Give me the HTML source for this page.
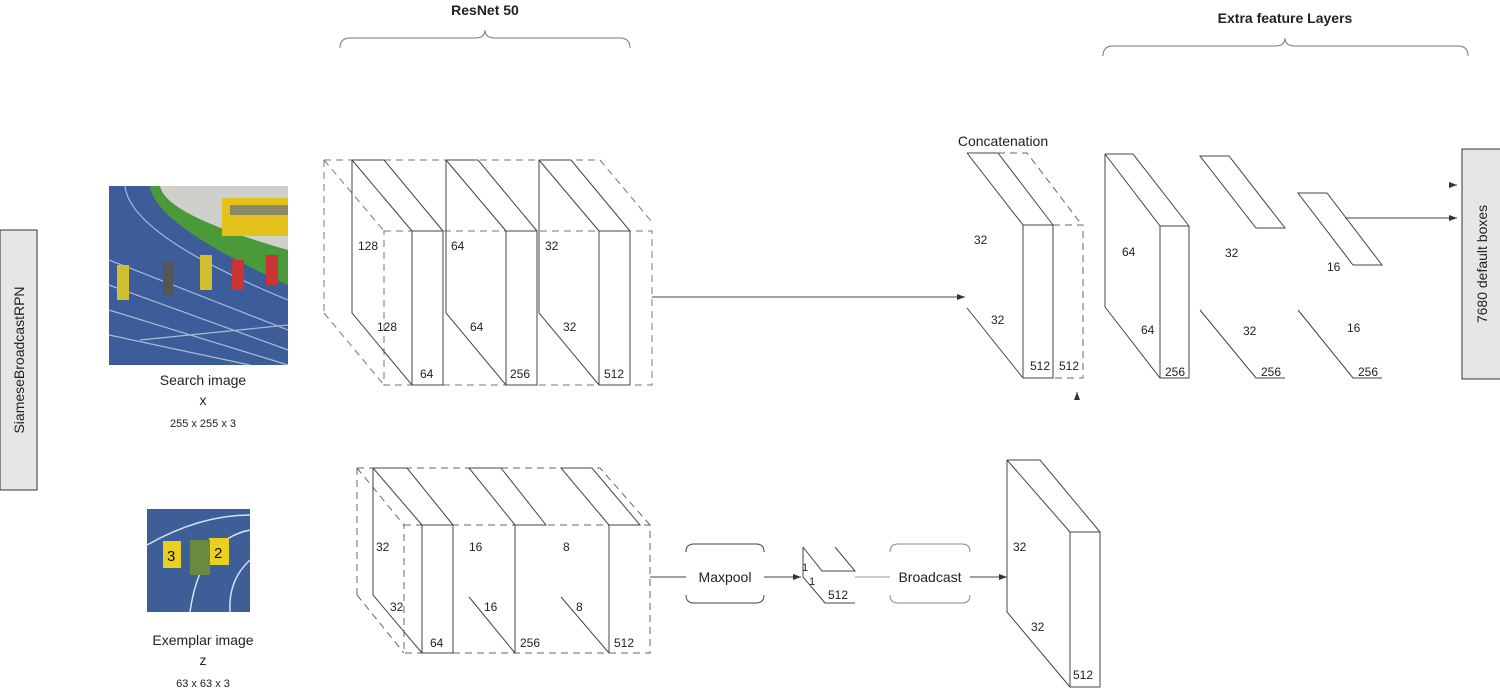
<!DOCTYPE html>
<html><head><meta charset="utf-8"><style>
html,body{margin:0;padding:0;background:#fff;}
svg{display:block;font-family:"Liberation Sans",sans-serif;}
text{fill:#222;}
</style></head><body>
<svg width="1500" height="690" viewBox="0 0 1500 690" xmlns="http://www.w3.org/2000/svg">
<defs>
<marker id="a" markerWidth="8" markerHeight="6" refX="8" refY="3" orient="auto"><path d="M0,0 L8,3 L0,6z" fill="#333"/></marker>
</defs>
<rect x="0" y="230" width="37" height="260" fill="#e6e6e6" stroke="#333" stroke-width="1"/>
<text transform="translate(24,360) rotate(-90)" text-anchor="middle" font-size="14">SiameseBroadcastRPN</text>
<rect x="1462" y="149" width="40" height="230" fill="#e6e6e6" stroke="#333" stroke-width="1"/>
<text transform="translate(1487,264) rotate(-90)" text-anchor="middle" font-size="14">7680 default boxes</text>

<g>
<rect x="109" y="186" width="179" height="179" fill="#3d5d9a"/>
<path d="M150,186 Q155,225 288,285 L288,186z" fill="#4a9a3a"/>
<path d="M160,186 Q165,215 288,250 L288,186z" fill="#cfcfcb"/>
<rect x="222" y="198" width="66" height="38" fill="#e3c21c"/>
<rect x="230" y="205" width="58" height="10" fill="#8a8a6a"/>
<g stroke="#c8d2e8" stroke-width="1.2" fill="none" opacity="0.8">
<path d="M125,186 Q130,235 288,300"/><path d="M109,260 L288,330"/><path d="M109,285 L288,350"/><path d="M109,310 L288,365"/><path d="M109,335 L250,365"/><path d="M140,340 L288,325"/>
</g>
<g fill="#d0c030"><rect x="117" y="265" width="12" height="35"/><rect x="200" y="255" width="12" height="35"/></g>
<g fill="#c33"><rect x="232" y="260" width="12" height="30"/><rect x="266" y="255" width="12" height="30"/></g>
<rect x="163" y="262" width="10" height="34" fill="#555"/>
</g>
<g>
<rect x="147" y="509" width="103" height="103" fill="#3e5e98"/>
<g stroke="#d8e0f0" stroke-width="1.5" fill="none"><path d="M147,545 Q200,515 250,515"/><path d="M190,612 Q200,540 250,530"/><path d="M230,612 Q228,580 250,560"/></g>
<rect x="163" y="541" width="18" height="27" fill="#e8d020"/><text x="167" y="561" font-size="15" style="fill:#111">3</text>
<rect x="209" y="538" width="20" height="27" fill="#e8d020"/><text x="214" y="558" font-size="15" style="fill:#111">2</text>
<rect x="190" y="540" width="20" height="35" fill="#6a8a40"/>
</g>
<g font-size="14" text-anchor="middle">
<text x="203" y="385">Search image</text><text x="203" y="405">x</text>
<text x="203" y="427" font-size="11">255 x 255 x 3</text>
<text x="203" y="645">Exemplar image</text><text x="203" y="665">z</text>
<text x="203" y="687" font-size="11">63 x 63 x 3</text>
</g>

<g fill="none" stroke="#777" stroke-width="1">
<path d="M340,48 Q340,38 350,38 L475,38 Q485,38 485,30 Q485,38 495,38 L620,38 Q630,38 630,48"/>
<path d="M1103,56 Q1103,46 1113,46 L1275,46 Q1285,46 1285,38 Q1285,46 1295,46 L1458,46 Q1468,46 1468,56"/>
</g>
<text x="485" y="15" font-size="14" font-weight="bold" text-anchor="middle">ResNet 50</text>
<text x="1285" y="23" font-size="14" font-weight="bold" text-anchor="middle">Extra feature Layers</text>

<g fill="none" stroke="#444" stroke-width="1">
<g stroke-dasharray="7,5" stroke="#777">
<path d="M324,160 L324,313"/><path d="M324,160 L600,160"/><path d="M324,160 L384,231"/><path d="M324,313 L384,385"/>
<path d="M384,231 L652,231 L652,385 L384,385 Z"/><path d="M600,160 L652,222"/>
</g>
<path d="M352,160 L384,160 L443,231 M352,160 L412,231 M352,160 L352,313 L412,385"/>
<rect x="412" y="231" width="31" height="154" fill="#fff"/>
<path d="M446,160 L478,160 L537,231 M446,160 L506,231 M446,160 L446,313 L506,385"/>
<rect x="506" y="231" width="31" height="154" fill="#fff"/>
<path d="M539,160 L571,160 L630,231 M539,160 L599,231 M539,160 L539,313 L599,385"/>
<rect x="599" y="231" width="31" height="154" fill="#fff"/>
<path d="M652,297 L965,297" marker-end="url(#a)"/>

<path d="M967,153 L998,153 L1053,225 M967,153 L1023,225 M967,308 L1023,378"/>
<rect x="1023" y="225" width="30" height="153"/>
<g stroke-dasharray="7,5" stroke="#666"><path d="M998,153 L1027,153 L1082,225"/><path d="M1053,225 L1083,225 L1083,378 L1053,378"/></g>
<path d="M1077,400 L1077,392" marker-end="url(#a)"/>

<path d="M1105,154 L1133,154 L1189,226 M1105,154 L1160,226 M1105,154 L1105,307 L1160,378"/>
<rect x="1160" y="226" width="29" height="152"/>
<path d="M1200,156 L1229,156 L1285,228 L1256,228 Z M1200,310 L1256,378 L1285,378"/>
<path d="M1298,193 L1327,193 L1382,265 L1353,265 Z M1298,310 L1353,378 L1382,378"/>
<path d="M1345,218 L1457,218" marker-end="url(#a)"/>
<path d="M1450,185 L1457,185" marker-end="url(#a)"/>

<g stroke-dasharray="7,5" stroke="#666">
<path d="M357,468 L357,595"/><path d="M357,468 L600,468 L650,525"/><path d="M357,468 L404,525"/><path d="M357,595 L404,653"/>
<path d="M404,525 L650,525 L650,653 L404,653 Z"/>
</g>
<path d="M373,468 L407,468 L453,525 M373,468 L422,525 M373,468 L373,595 L422,653"/>
<rect x="422" y="525" width="31" height="128"/>
<path d="M469,468 L501,468 L546,525 L515,525 Z M469,597 L515,653 M515,525 L515,653"/>
<path d="M561,468 L592,468 L640,525 L609,525 Z M561,597 L609,653 M609,525 L609,653"/>
<path d="M650,577 L686,577"/>
<path d="M692,544 L758,544 M692,603 L758,603 M686,552 Q686,544 694,544 M686,595 Q686,603 694,603 M764,552 Q764,544 756,544 M764,595 Q764,603 756,603"/>
<path d="M764,577 L801,577" marker-end="url(#a)"/>
<path d="M803,547 L803,577 L825,603 L855,603 M803,547 L822,571 L855,571 L835,547"/>
<path d="M855,577 L890,577" stroke="#999"/>
<path d="M896,544 L964,544 M896,603 L964,603 M890,552 Q890,544 898,544 M890,595 Q890,603 898,603 M970,552 Q970,544 962,544 M970,595 Q970,603 962,603" stroke="#888"/>
<path d="M970,577 L1007,577" marker-end="url(#a)"/>
<path d="M1007,460 L1040,460 L1100,532 M1007,460 L1070,532 M1007,460 L1007,612 L1070,687"/>
<rect x="1070" y="532" width="30" height="155"/>
</g>

<g font-size="12">
<text x="358" y="250">128</text><text x="377" y="331">128</text><text x="420" y="378">64</text>
<text x="451" y="250">64</text><text x="470" y="331">64</text><text x="510" y="378">256</text>
<text x="545" y="250">32</text><text x="563" y="331">32</text><text x="604" y="378">512</text>
<text x="974" y="244">32</text><text x="991" y="324">32</text><text x="1030" y="370">512</text><text x="1059" y="370">512</text>
<text x="1122" y="256">64</text><text x="1141" y="334">64</text><text x="1165" y="376">256</text>
<text x="1225" y="257">32</text><text x="1243" y="335">32</text><text x="1261" y="376">256</text>
<text x="1327" y="271">16</text><text x="1347" y="332">16</text><text x="1358" y="376">256</text>
<text x="376" y="551">32</text><text x="390" y="611">32</text><text x="430" y="647">64</text>
<text x="469" y="551">16</text><text x="484" y="611">16</text><text x="520" y="647">256</text>
<text x="563" y="551">8</text><text x="576" y="611">8</text><text x="614" y="647">512</text>
<text x="802" y="571" font-size="11">1</text><text x="809" y="585" font-size="11">1</text><text x="828" y="599">512</text>
<text x="1013" y="551">32</text><text x="1031" y="631">32</text><text x="1073" y="679">512</text>
</g>
<g font-size="14" text-anchor="middle">
<text x="1003" y="146">Concatenation</text>
<text x="725" y="582">Maxpool</text>
<text x="930" y="582">Broadcast</text>
</g>
</svg>
</body></html>
